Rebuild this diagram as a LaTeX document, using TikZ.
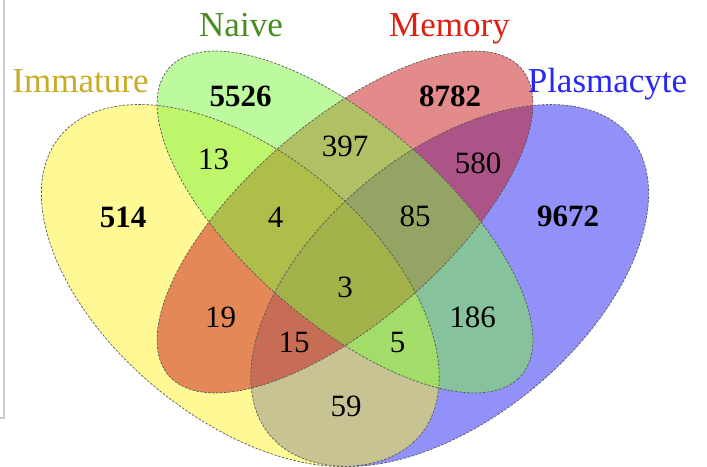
\documentclass[tikz,border=0pt]{standalone}
\usepackage{fontspec}
\setmainfont{Liberation Serif}
\definecolor{cImm}{RGB}{255,245,45}
\definecolor{cNai}{RGB}{125,245,65}
\definecolor{cMem}{RGB}{200,25,25}
\definecolor{cPla}{RGB}{36,36,245}
\definecolor{tImm}{RGB}{200,172,40}
\definecolor{tNai}{RGB}{72,140,32}
\definecolor{tMem}{RGB}{222,32,18}
\definecolor{tPla}{RGB}{40,40,245}
\begin{document}
\begin{tikzpicture}[x=1pt,y=1pt,
  lab/.style={font=\fontsize{35}{42}\selectfont, anchor=base, inner sep=0pt},
  num/.style={font=\fontsize{31}{37}\selectfont, inner sep=0pt},
  bnum/.style={font=\fontsize{31}{37}\selectfont\bfseries, inner sep=0pt},
  outline/.style={draw=black!65, dash pattern=on 2.5pt off 1.5pt, line width=0.7pt}]
\useasboundingbox (0,0) rectangle (707,466);
\fill[white] (0,0) rectangle (707,466);
\draw[black!20, line width=1.5pt] (4,466) -- (4,48) -- (0,48);
% fills: Plasmacyte, Immature, Memory, Naive
\foreach \cx/\cy/\r/\bb/\col in {449.7/180.5/45/0.20/cPla, 240.3/180.5/-45/0.20/cImm, 345/244/45/0.15/cMem, 345/244/-45/0.15/cNai}
  \fill[\col, fill opacity=0.5] plot[variable=\t, domain=0:360, samples=145]
    ({\cx+698*(0.35*cos(\t)*cos(\r)-\bb*sin(\t)*sin(\r))},{\cy+635*(0.35*cos(\t)*sin(\r)+\bb*sin(\t)*cos(\r))}) -- cycle;
\foreach \cx/\cy/\r/\bb in {449.7/180.5/45/0.20, 240.3/180.5/-45/0.20, 345/244/45/0.15, 345/244/-45/0.15}
  \draw[outline] plot[variable=\t, domain=0:360, samples=145]
    ({\cx+698*(0.35*cos(\t)*cos(\r)-\bb*sin(\t)*sin(\r))},{\cy+635*(0.35*cos(\t)*sin(\r)+\bb*sin(\t)*cos(\r))}) -- cycle;
% set labels
\node[lab, text=tImm] (limm) at (80.5,373) {Immature};
\node[lab, text=tNai] (lnai) at (241,429) {Naive};
\node[lab, text=tMem] (lmem) at (449.5,429) {Memory};
\node[lab, text=tPla] (lpla) at (607.5,373) {Plasmacyte};
% counts
\node[bnum] (n5526) at (240.5,370) {5526};
\node[bnum] (n8782) at (450,370) {8782};
\node[bnum] (n514) at (123,249) {514};
\node[bnum] (n9672) at (568,249.5) {9672};
\node[num] (n13) at (213.5,307) {13};
\node[num] (n397) at (345,319.5) {397};
\node[num] (n580) at (478,303) {580};
\node[num] (n4) at (275.5,249) {4};
\node[num] (n85) at (415,250) {85};
\node[num] (n3) at (345,179) {3};
\node[num] (n19) at (220.5,148.5) {19};
\node[num] (n186) at (472.5,149) {186};
\node[num] (n15) at (294,123.5) {15};
\node[num] (n5) at (397.5,123.5) {5};
\node[num] (n59) at (346,60) {59};
\end{tikzpicture}
\end{document}
